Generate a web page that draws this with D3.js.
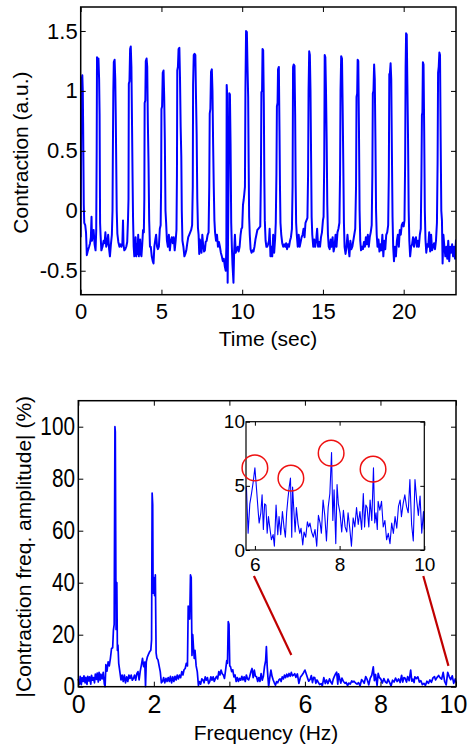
<!DOCTYPE html>
<html><head><meta charset="utf-8">
<script src="https://cdn.jsdelivr.net/npm/d3@7"></script>
<style>
html,body{margin:0;padding:0;background:#fff;}
svg{display:block;font-family:"Liberation Sans",Arial,Helvetica,sans-serif;}
</style></head><body>
<svg id="chart" width="468" height="749"></svg>
<script>
// ---------- DATA ----------
const timeTicks = [0, 5, 10, 15, 20];
const timeTickLabels = ["0", "5", "10", "15", "20"];
const contractionTicks = [-0.5, 0, 0.5, 1, 1.5];
const contractionTickLabels = ["-0.5", "0", "0.5", "1", "1.5"];
const timeDomain = [0, 23.24];
const contractionDomain = [-0.7, 1.7];

// [time (sec), contraction (a.u.)]
const contractionTrace = [
[0.00,-0.22],[0.02,0.35],[0.04,0.92],[0.07,1.10],[0.10,1.13],[0.13,1.0],[0.15,0.73],[0.19,0.05],[0.22,-0.1],[0.28,-0.12],[0.33,-0.18],[0.38,-0.37],[0.45,-0.33],[0.52,-0.3],[0.58,-0.27],[0.63,-0.22],[0.67,-0.05],[0.70,-0.25],[0.75,-0.18],[0.80,-0.16],[0.86,-0.28],[0.92,-0.33],[0.96,-0.17],
[0.99,0.5],[1.01,1.28],[1.05,1.26],[1.10,1.27],[1.14,1.1],[1.17,0.8],[1.20,-0.1],[1.23,-0.2],[1.28,-0.33],[1.35,-0.3],[1.42,-0.25],[1.48,-0.27],[1.53,-0.18],[1.58,-0.3],[1.64,-0.27],[1.70,-0.2],[1.76,-0.32],[1.81,-0.38],[1.87,-0.28],[1.93,-0.2],
[1.97,0.0],[1.99,0.45],[2.02,1.0],[2.05,1.24],[2.10,1.26],[2.14,1.1],[2.17,0.8],[2.20,0.4],[2.23,0.0],[2.27,-0.19],[2.33,-0.26],[2.40,-0.3],[2.46,-0.28],[2.52,-0.3],[2.58,-0.27],[2.62,-0.08],[2.65,-0.28],[2.70,-0.33],[2.76,-0.32],[2.82,-0.3],[2.88,-0.26],[2.93,-0.07],
[2.96,0.1],[2.98,1.06],[3.02,1.08],[3.06,1.35],[3.10,1.37],[3.14,1.2],[3.18,0.7],[3.21,0.3],[3.24,-0.05],[3.28,-0.3],[3.32,-0.38],[3.36,-0.36],[3.40,-0.22],[3.44,-0.38],[3.48,-0.28],[3.52,-0.36],[3.56,-0.2],[3.60,-0.38],[3.64,-0.3],[3.68,-0.24],[3.72,-0.36],[3.76,-0.38],[3.81,-0.28],[3.86,-0.16],[3.91,-0.18],
[3.94,0.1],[3.96,0.9],[4.00,0.92],[4.03,1.25],[4.08,1.27],[4.12,1.2],[4.16,0.72],[4.20,0.4],[4.24,-0.08],[4.29,-0.3],[4.34,-0.3],[4.40,-0.38],[4.46,-0.42],[4.51,-0.44],[4.56,-0.3],[4.62,-0.24],[4.67,-0.2],[4.73,-0.3],[4.78,-0.32],[4.84,-0.3],[4.90,-0.15],[4.95,-0.12],
[4.98,0.2],[5.00,0.85],[5.04,0.87],[5.08,1.15],[5.13,1.17],[5.17,0.95],[5.21,0.59],[5.25,0.0],[5.29,-0.1],[5.34,-0.25],[5.40,-0.3],[5.46,-0.2],[5.52,-0.33],[5.58,-0.25],[5.64,-0.22],[5.70,-0.27],[5.76,-0.22],[5.82,-0.33],[5.88,-0.25],[5.93,-0.16],
[5.96,0.3],[5.98,1.17],[6.02,1.2],[6.06,1.35],[6.11,1.36],[6.15,1.1],[6.19,0.7],[6.23,0.45],[6.26,0.0],[6.30,-0.25],[6.36,-0.3],[6.42,-0.38],[6.48,-0.36],[6.54,-0.33],[6.60,-0.27],[6.66,-0.22],[6.72,-0.2],[6.78,-0.18],[6.84,-0.16],[6.90,-0.12],
[6.94,0.2],[6.96,1.05],[7.00,1.3],[7.05,1.31],[7.10,1.3],[7.14,0.95],[7.18,0.64],[7.22,0.1],[7.26,-0.14],[7.30,-0.2],[7.34,-0.36],[7.38,-0.24],[7.43,-0.3],[7.48,-0.35],[7.53,-0.2],[7.58,-0.28],[7.64,-0.34],[7.69,-0.33],[7.74,-0.26],[7.80,-0.25],[7.86,-0.2],[7.92,-0.18],
[7.96,0.2],[7.99,0.81],[8.03,0.85],[8.07,1.16],[8.12,1.18],[8.16,1.0],[8.20,0.56],[8.24,0.2],[8.28,-0.08],[8.32,-0.18],[8.38,-0.25],[8.44,-0.2],[8.50,-0.3],[8.56,-0.26],[8.62,-0.3],[8.68,-0.35],[8.74,-0.38],[8.80,-0.42],[8.86,-0.4],[8.92,-0.46],[8.98,-0.5],
[9.02,-0.3],[9.04,1.05],[9.06,1.0],[9.08,-0.1],[9.10,-0.6],[9.12,-0.3],[9.16,0.3],[9.20,0.98],[9.24,0.97],[9.28,0.56],[9.32,-0.1],[9.36,-0.3],[9.40,-0.45],[9.46,-0.6],[9.50,-0.35],[9.55,-0.2],[9.60,-0.35],[9.66,-0.32],[9.72,-0.3],[9.78,-0.34],[9.84,-0.3],[9.90,-0.2],[9.95,-0.15],[10.00,-0.14],[10.05,0.05],[10.09,0.09],[10.13,0.14],
[10.17,0.2],[10.20,1.0],[10.24,1.5],[10.29,1.49],[10.33,1.2],[10.37,0.95],[10.40,0.4],[10.43,-0.05],[10.47,-0.2],[10.52,-0.32],[10.58,-0.35],[10.64,-0.33],[10.70,-0.34],[10.76,-0.3],[10.82,-0.24],[10.88,-0.2],[10.94,-0.16],[11.00,-0.15],[11.06,-0.14],[11.12,-0.13],
[11.16,0.3],[11.19,0.99],[11.23,1.0],[11.26,1.35],[11.30,1.34],[11.34,0.9],[11.37,0.28],[11.40,-0.08],[11.45,-0.25],[11.50,-0.3],[11.55,-0.3],[11.60,-0.28],[11.66,-0.25],[11.70,-0.15],[11.75,-0.38],[11.80,-0.3],[11.86,-0.38],[11.92,-0.2],[11.98,-0.35],[12.04,-0.23],[12.08,-0.1],
[12.12,0.3],[12.15,0.87],[12.19,0.9],[12.22,1.18],[12.27,1.2],[12.31,0.67],[12.34,0.2],[12.37,-0.1],[12.42,-0.2],[12.48,-0.27],[12.54,-0.3],[12.60,-0.28],[12.66,-0.3],[12.72,-0.27],[12.78,-0.32],[12.84,-0.28],[12.90,-0.3],[12.96,-0.25],[13.02,-0.22],[13.08,-0.15],
[13.12,0.2],[13.15,1.2],[13.19,1.22],[13.24,1.21],[13.28,0.8],[13.31,0.23],[13.34,-0.1],[13.38,-0.2],[13.44,-0.3],[13.50,-0.2],[13.56,-0.3],[13.62,-0.26],[13.68,-0.22],[13.74,-0.2],[13.80,-0.15],[13.86,-0.22],[13.92,-0.1],[13.98,-0.08],[14.04,-0.06],
[14.08,0.3],[14.11,1.0],[14.15,1.33],[14.19,1.3],[14.23,1.0],[14.27,0.4],[14.30,-0.05],[14.34,-0.2],[14.40,-0.3],[14.46,-0.24],[14.52,-0.3],[14.58,-0.25],[14.64,-0.15],[14.70,-0.3],[14.76,-0.26],[14.82,-0.3],[14.88,-0.22],[14.94,-0.18],[15.00,-0.08],[15.04,-0.05],
[15.08,0.4],[15.11,1.3],[15.15,1.28],[15.19,1.0],[15.23,0.6],[15.27,0.05],[15.31,-0.2],[15.36,-0.3],[15.42,-0.32],[15.48,-0.24],[15.54,-0.3],[15.60,-0.22],[15.66,-0.34],[15.72,-0.3],[15.78,-0.2],[15.84,-0.3],[15.90,-0.18],[15.96,-0.15],[16.02,-0.1],
[16.06,0.3],[16.09,1.0],[16.13,1.29],[16.18,1.27],[16.22,0.88],[16.26,0.4],[16.30,-0.1],[16.34,-0.3],[16.40,-0.36],[16.46,-0.3],[16.52,-0.2],[16.58,-0.3],[16.64,-0.38],[16.70,-0.25],[16.76,-0.32],[16.82,-0.3],[16.88,-0.25],[16.94,-0.2],[17.00,-0.15],
[17.05,0.2],[17.08,0.95],[17.12,0.98],[17.15,1.26],[17.19,1.25],[17.23,0.7],[17.27,0.0],[17.31,-0.25],[17.36,-0.33],[17.42,-0.3],[17.48,-0.32],[17.54,-0.26],[17.60,-0.3],[17.66,-0.22],[17.72,-0.28],[17.78,-0.2],[17.84,-0.3],[17.90,-0.22],[17.96,-0.18],[18.02,-0.12],
[18.06,0.3],[18.09,0.98],[18.13,1.0],[18.17,1.22],[18.21,1.1],[18.25,0.6],[18.29,0.0],[18.33,-0.2],[18.38,-0.3],[18.44,-0.24],[18.50,-0.34],[18.56,-0.28],[18.62,-0.33],[18.68,-0.2],[18.74,-0.38],[18.80,-0.25],[18.86,-0.32],[18.92,-0.2],[18.98,-0.18],[19.04,-0.12],
[19.08,0.3],[19.11,1.14],[19.15,1.15],[19.19,1.23],[19.23,1.1],[19.27,0.5],[19.31,-0.05],[19.35,-0.3],[19.40,-0.42],[19.46,-0.3],[19.52,-0.38],[19.58,-0.25],[19.64,-0.2],[19.70,-0.3],[19.76,-0.16],[19.82,-0.2],[19.88,-0.12],[19.94,-0.1],[20.00,-0.13],[20.05,-0.08],
[20.09,0.4],[20.12,1.2],[20.15,1.48],[20.19,1.47],[20.23,1.05],[20.27,0.6],[20.31,0.0],[20.35,-0.25],[20.40,-0.38],[20.46,-0.3],[20.52,-0.28],[20.58,-0.22],[20.64,-0.3],[20.70,-0.24],[20.76,-0.22],[20.82,-0.3],[20.88,-0.25],[20.94,-0.3],[21.00,-0.2],[21.06,-0.15],
[21.10,0.3],[21.13,0.8],[21.16,0.82],[21.19,1.24],[21.23,1.22],[21.27,0.67],[21.31,0.0],[21.35,-0.24],[21.40,-0.35],[21.46,-0.28],[21.52,-0.3],[21.58,-0.18],[21.64,-0.34],[21.70,-0.2],[21.76,-0.33],[21.82,-0.3],[21.88,-0.27],[21.94,-0.32],[22.00,-0.25],[22.06,-0.1],
[22.10,0.4],[22.13,1.15],[22.17,1.2],[22.21,1.32],[22.25,1.3],[22.29,0.6],[22.33,0.0],[22.37,-0.08],[22.41,-0.44],[22.46,-0.2],[22.52,-0.3],[22.58,-0.38],[22.64,-0.3],[22.70,-0.4],[22.76,-0.25],[22.82,-0.42],[22.88,-0.3],[22.94,-0.35],[23.00,-0.28],[23.06,-0.38],[23.12,-0.3],[23.18,-0.4],[23.24,-0.24]
];

const freqTicks = [0, 2, 4, 6, 8, 10];
const ampTicks = [0, 20, 40, 60, 80, 100];
const freqDomain = [0, 10];
const ampDomain = [0, 110];

// [frequency (Hz), |amplitude| (%)] for 0 - 5.8 Hz
const spectrumLow = [
[0.00,3.0],[0.03,1.0],[0.05,4.0],[0.08,0.8],[0.10,3.5],[0.13,2.0],[0.15,4.2],[0.18,1.5],[0.20,3.6],[0.23,0.9],[0.25,4.0],[0.28,2.2],[0.30,3.8],[0.33,1.0],[0.35,4.4],[0.38,2.5],[0.40,3.5],[0.43,1.5],[0.45,4.8],[0.48,2.8],[0.50,5.2],[0.53,1.8],[0.55,5.5],[0.58,2.5],[0.60,4.8],[0.63,3.0],[0.66,5.5],[0.69,1.0],[0.71,0.0],[0.73,8.5],[0.76,6.0],[0.79,9.6],[0.82,8.0],[0.85,10.9],[0.88,14.7],[0.91,15.0],[0.93,21.8],[0.95,24.0],[0.97,100],[0.98,98],[0.99,60],[1.00,22],[1.02,40],[1.035,14],[1.05,16],[1.07,9],[1.10,5.8],[1.13,2.6],[1.16,4.5],[1.19,2.0],[1.22,4.5],[1.25,1.5],[1.28,3.8],[1.31,2.0],[1.34,4.5],[1.37,3.2],[1.40,4.5],[1.43,2.5],[1.46,3.2],[1.49,4.5],[1.52,2.5],[1.55,5.0],[1.58,5.8],[1.61,2.6],[1.64,6.0],[1.67,8.3],[1.70,10.9],[1.73,7.7],[1.76,9.5],[1.78,0.0],[1.80,9.6],[1.83,11.5],[1.86,12.5],[1.89,13.5],[1.92,14.0],[1.94,18.0],[1.955,74.5],[1.97,70],[1.98,36],[2.00,42],[2.02,35],[2.04,43],[2.06,13],[2.08,11],[2.11,10.3],[2.14,8.0],[2.17,5.8],[2.20,1.5],[2.23,2.0],[2.26,3.5],[2.29,1.5],[2.32,3.2],[2.35,2.0],[2.38,3.5],[2.41,2.0],[2.44,4.0],[2.47,1.5],[2.50,3.8],[2.53,2.0],[2.56,4.0],[2.59,2.6],[2.62,4.5],[2.65,3.0],[2.68,4.5],[2.71,3.5],[2.74,5.8],[2.77,4.5],[2.80,6.5],[2.83,7.0],[2.86,9.0],[2.89,8.0],[2.91,31],[2.93,30],[2.95,26],[2.97,43],[2.99,42],[3.01,12],[3.03,20],[3.05,15],[3.07,10.9],[3.09,14],[3.12,8],[3.15,5.8],[3.18,0.5],[3.21,2.0],[3.24,1.0],[3.27,3.0],[3.30,2.6],[3.33,1.5],[3.36,3.8],[3.39,2.5],[3.42,3.5],[3.45,1.2],[3.48,2.0],[3.51,3.8],[3.54,2.5],[3.57,3.8],[3.60,2.0],[3.63,3.2],[3.66,4.0],[3.69,3.0],[3.72,5.8],[3.75,4.5],[3.78,6.4],[3.81,5.0],[3.84,4.5],[3.87,3.2],[3.90,6.4],[3.93,10],[3.95,9],[3.97,25],[3.99,24],[4.01,8],[4.03,7.7],[4.06,5.8],[4.09,6.5],[4.12,3.8],[4.15,4.5],[4.18,2.0],[4.21,3.5],[4.24,2.0],[4.27,3.2],[4.30,2.5],[4.33,4.0],[4.36,2.6],[4.39,3.8],[4.42,2.0],[4.45,4.5],[4.48,3.0],[4.51,2.6],[4.54,4.0],[4.57,5.8],[4.60,7.0],[4.63,3.5],[4.66,6.4],[4.69,4.0],[4.72,3.8],[4.75,2.0],[4.78,3.5],[4.81,2.0],[4.84,5.0],[4.87,2.5],[4.90,4.0],[4.93,7.7],[4.96,10],[4.98,15.4],[5.00,8],[5.02,3.8],[5.04,0.0],[5.07,3.5],[5.10,6.4],[5.13,4.0],[5.16,2.6],[5.19,1.5],[5.22,0.6],[5.25,2.0],[5.28,1.5],[5.31,2.6],[5.34,3.0],[5.37,2.0],[5.40,3.8],[5.43,3.0],[5.46,4.5],[5.49,3.5],[5.52,4.8],[5.55,3.8],[5.58,5.1],[5.61,4.0],[5.64,5.5],[5.67,4.2],[5.70,4.5],[5.73,5.0],[5.76,3.6]
];

// [frequency (Hz), |amplitude| (%)] for 5.8 - 10 Hz (also shown enlarged in the inset)
const spectrumHigh = [
[5.80,4.9],[5.84,1.3],[5.88,3.6],[5.92,4.4],[5.96,5.3],[6.00,6.4],[6.04,4.7],[6.08,2.9],[6.10,2.1],[6.14,2.9],[6.17,4.3],[6.20,1.6],[6.23,3.6],[6.26,3.5],[6.29,1.3],[6.32,2.6],[6.35,1.8],[6.39,0.8],[6.43,1.2],[6.46,0.3],[6.50,3.5],[6.54,1.2],[6.57,2.6],[6.61,1.2],[6.65,3.0],[6.69,1.7],[6.72,1.0],[6.75,2.9],[6.78,4.0],[6.81,4.9],[6.84,5.6],[6.87,1.0],[6.89,4.9],[6.92,3.1],[6.95,1.4],[6.98,3.3],[7.02,2.0],[7.06,1.3],[7.09,1.7],[7.13,0.4],[7.16,1.4],[7.20,1.0],[7.24,2.2],[7.27,1.8],[7.30,2.1],[7.34,1.4],[7.38,1.0],[7.42,1.6],[7.46,0.3],[7.50,2.7],[7.54,2.1],[7.57,1.3],[7.61,3.9],[7.65,2.7],[7.69,0.7],[7.73,3.3],[7.77,4.4],[7.81,7.6],[7.84,2.3],[7.87,4.7],[7.91,0.5],[7.94,5.1],[7.97,3.6],[8.01,2.9],[8.05,1.4],[8.09,3.1],[8.13,1.8],[8.17,1.4],[8.20,2.9],[8.24,1.7],[8.28,0.3],[8.32,2.5],[8.36,1.8],[8.40,3.3],[8.44,2.0],[8.48,3.0],[8.52,1.6],[8.56,4.4],[8.59,1.8],[8.62,3.5],[8.65,3.3],[8.69,1.8],[8.72,3.9],[8.76,2.3],[8.80,6.4],[8.83,2.1],[8.86,2.9],[8.89,1.6],[8.91,3.8],[8.95,3.1],[8.99,3.8],[9.03,1.8],[9.07,2.3],[9.11,0.8],[9.15,1.3],[9.19,0.5],[9.23,2.1],[9.27,1.3],[9.31,2.6],[9.35,1.7],[9.39,3.4],[9.43,3.9],[9.46,2.6],[9.50,3.6],[9.54,4.3],[9.58,3.4],[9.62,2.9],[9.66,5.5],[9.70,2.0],[9.74,0.7],[9.78,5.5],[9.82,3.9],[9.86,2.7],[9.90,4.2],[9.94,1.3],[9.98,3.0],[10.00,1.6]
];

const insetFreqTicks = [6, 8, 10];
const insetAmpTicks = [0, 5, 10];
const insetFreqDomain = [5.79, 10];
const insetAmpDomain = [0, 10];
// circled peaks in the inset [Hz, %]
const highlightedPeaks = [[6.0, 6.4], [6.85, 5.6], [7.80, 7.55], [8.79, 6.3]];
// zoom connectors: [inset frequency, main-plot frequency, main-plot amplitude]
const zoomConnectors = [[6, 5.64, 12.2], [10, 9.8, 8.0]];

// ---------- DRAWING ----------
const svg = d3.select("#chart");
const BLUE = "#0000ff";

function boxAxes(g, x, y, opt) {
  const [x0, x1] = x.range(), [y0, y1] = y.range();
  const tl = opt.tick;
  const bottom = g.append("g").attr("transform", `translate(0,${y0})`)
    .call(d3.axisBottom(x).tickValues(opt.xt).tickFormat((d, i) => opt.xl[i]).tickSize(-tl).tickPadding(opt.xpad));
  const left = g.append("g").attr("transform", `translate(${x0},0)`)
    .call(d3.axisLeft(y).tickValues(opt.yt).tickFormat((d, i) => opt.yl[i]).tickSize(-tl).tickPadding(opt.ypad));
  const top = g.append("g").attr("transform", `translate(0,${y1})`)
    .call(d3.axisTop(x).tickValues(opt.xt).tickFormat("").tickSize(-tl));
  const right = g.append("g").attr("transform", `translate(${x1},0)`)
    .call(d3.axisRight(y).tickValues(opt.yt).tickFormat("").tickSize(-tl));
  [bottom, left, top, right].forEach(a => {
    a.select(".domain").remove();
    a.selectAll(".tick line").attr("stroke", "#000").attr("stroke-width", 1);
    a.selectAll("text").attr("fill", "#000").attr("font-family", "'Liberation Sans', Arial, sans-serif");
  });
  bottom.selectAll("text").attr("font-size", opt.xfs);
  left.selectAll("text").attr("font-size", opt.yfs);
  if (opt.ysx) left.selectAll("text").attr("transform", `scale(${opt.ysx},1)`);
  g.append("rect").attr("x", x0).attr("y", y1).attr("width", x1 - x0).attr("height", y0 - y1)
    .attr("fill", "none").attr("stroke", "#000").attr("stroke-width", opt.bw);
  return {bottom, left};
}

// ---- top: time trace ----
const xT = d3.scaleLinear().domain(timeDomain).range([80.7, 456]);
const yT = d3.scaleLinear().domain(contractionDomain).range([294.7, 7]);
const gT = svg.append("g");
gT.append("defs").append("clipPath").attr("id", "clipT").append("rect")
  .attr("x", 80.7).attr("y", 7).attr("width", 456 - 80.7).attr("height", 294.7 - 7);
gT.append("path").datum(contractionTrace)
  .attr("clip-path", "url(#clipT)")
  .attr("d", d3.line().x(d => xT(d[0])).y(d => yT(d[1])))
  .attr("fill", "none").attr("stroke", BLUE).attr("stroke-width", 2).attr("stroke-linejoin", "round");
boxAxes(gT, xT, yT, {xt: timeTicks, xl: timeTickLabels, yt: contractionTicks, yl: contractionTickLabels,
  tick: 5, xpad: 9, ypad: 3, xfs: 22, yfs: 22, bw: 1.5});
svg.append("text").attr("x", 268).attr("y", 345.5).attr("text-anchor", "middle")
  .attr("font-size", 21).text("Time (sec)");
svg.append("text").attr("transform", "translate(28,152.5) rotate(-90)").attr("text-anchor", "middle")
  .attr("font-size", 21).text("Contraction (a.u.)");

// ---- bottom: spectrum ----
const xF = d3.scaleLinear().domain(freqDomain).range([78.3, 456]);
const yF = d3.scaleLinear().domain(ampDomain).range([686.7, 400.7]);
const gF = svg.append("g");
gF.append("path").datum(spectrumLow.concat(spectrumHigh))
  .attr("d", d3.line().x(d => xF(d[0])).y(d => yF(d[1])))
  .attr("fill", "none").attr("stroke", BLUE).attr("stroke-width", 1.7).attr("stroke-linejoin", "round");
const axF = boxAxes(gF, xF, yF, {xt: freqTicks, xl: freqTicks.map(String), yt: ampTicks, yl: ampTicks.map(String),
  tick: 5, xpad: 9, ypad: 4, xfs: 25, yfs: 25, ysx: 0.83, bw: 1.5});
// keep the last frequency label inside the figure, as in the reference
axF.bottom.selectAll(".tick text").filter(d => d === freqDomain[1]).attr("dx", -3);
svg.append("text").attr("x", 266).attr("y", 740).attr("text-anchor", "middle")
  .attr("font-size", 21).text("Frequency (Hz)");
svg.append("text").attr("transform", "translate(31,546.7) rotate(-90)").attr("text-anchor", "middle")
  .attr("font-size", 21).text("|Contraction freq. amplitude| (%)");

// ---- inset ----
const xI = d3.scaleLinear().domain(insetFreqDomain).range([246, 424.3]);
const yI = d3.scaleLinear().domain(insetAmpDomain).range([550, 421.7]);
const gI = svg.append("g");
gI.append("rect").attr("x", 246).attr("y", 421.7).attr("width", 424.3 - 246).attr("height", 550 - 421.7).attr("fill", "#fff");
gI.append("path").datum(spectrumHigh)
  .attr("d", d3.line().x(d => xI(d[0])).y(d => yI(d[1])))
  .attr("fill", "none").attr("stroke", BLUE).attr("stroke-width", 1.1).attr("stroke-linejoin", "round");
boxAxes(gI, xI, yI, {xt: insetFreqTicks, xl: insetFreqTicks.map(String), yt: insetAmpTicks, yl: insetAmpTicks.map(String),
  tick: 4, xpad: 8, ypad: 1, xfs: 19, yfs: 19, bw: 1.2});
gI.selectAll("circle.peak").data(highlightedPeaks).join("circle").attr("class", "peak")
  .attr("cx", d => xI(d[0])).attr("cy", d => yI(d[1])).attr("r", 12.8)
  .attr("fill", "none").attr("stroke", "#ee1111").attr("stroke-width", 1.5);

// ---- zoom connectors ----
svg.selectAll("line.conn").data(zoomConnectors).join("line").attr("class", "conn")
  .attr("x1", d => xI(d[0]) - 1).attr("y1", 576)
  .attr("x2", d => xF(d[1])).attr("y2", d => yF(d[2]))
  .attr("stroke", "#c00000").attr("stroke-width", 2.2);
</script>
</body></html>
